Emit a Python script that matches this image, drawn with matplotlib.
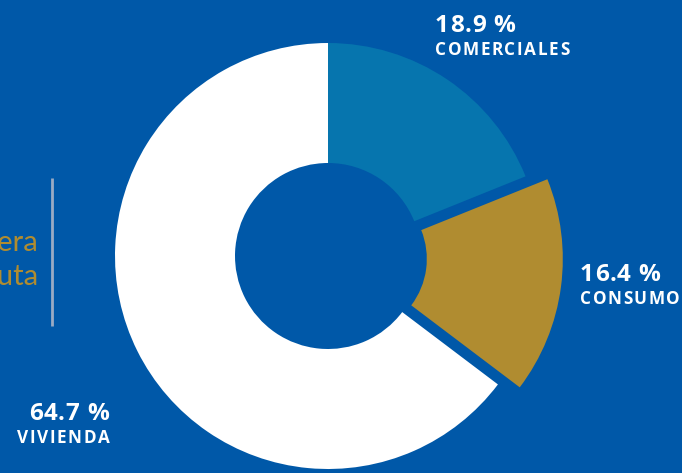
import matplotlib.pyplot as plt
from matplotlib.font_manager import FontProperties

# loan portfolio split
categories = ['VIVIENDA', 'COMERCIALES', 'CONSUMO']
shares = [64.7, 18.9, 16.4]
colors = ['#FFFFFF', '#0675AE', '#B08C30']
explode = [0, 0, 22]

bg = '#0058A8'
W, H = 682, 473

fig = plt.figure(figsize=(W / 100, H / 100), dpi=100, facecolor=bg)
ax = fig.add_axes([0, 0, 1, 1])
ax.set_facecolor(bg)

# pie goes clockwise from the top: comerciales, consumo, vivienda
order = [1, 2, 0]
wedges, _ = ax.pie([shares[i] for i in order], colors=[colors[i] for i in order],
                   explode=[explode[i] for i in order], startangle=90,
                   counterclock=False, center=(328, H - 256), radius=213,
                   wedgeprops=dict(width=120, linewidth=0))
# the pulled-out slice is a bit thicker toward the hole
wedges[1].set_width(136)

ax.set_xlim(0, W)
ax.set_ylim(0, H)
ax.set_aspect('equal')
ax.axis('off')

renderer = fig.canvas.get_renderer()


def tracked(x, y, s, size, track, ha='left'):
    # draw s one glyph at a time with extra spacing (pixels) between glyphs
    fp = FontProperties(family='Open Sans', weight='bold', size=size)

    def width(t):
        return renderer.get_text_width_height_descent(t, fp, ismath=False)[0] if t else 0

    total = width(s) + track * (len(s) - 1)
    x0 = x - total if ha == 'right' else x
    for k, ch in enumerate(s):
        ax.text(x0 + width(s[:k]) + track * k, y, ch, color='white',
                fontproperties=fp, ha='left', va='baseline')


def label(x, y, i, ha='left'):
    tracked(x, H - y, f'{shares[i]:.1f} %', 17.5, 0.8, ha)
    tracked(x, H - y - 23, categories[i], 12.3, 1.6, ha)


label(435, 32, 1)
label(580, 281, 2)
label(109, 420, 0, ha='right')

# title at the left edge, partly outside the figure
ax.text(38, H - 251, 'Cartera', color='#B08C30', fontsize=21,
        family='Lato', ha='right', va='baseline')
ax.text(38, H - 285, 'bruta', color='#B08C30', fontsize=21,
        family='Lato', ha='right', va='baseline')
ax.plot([52, 52], [H - 178, H - 326], color='#9AABC4', lw=2, solid_capstyle='butt')

fig.savefig('out.png', dpi=100, facecolor=bg)
